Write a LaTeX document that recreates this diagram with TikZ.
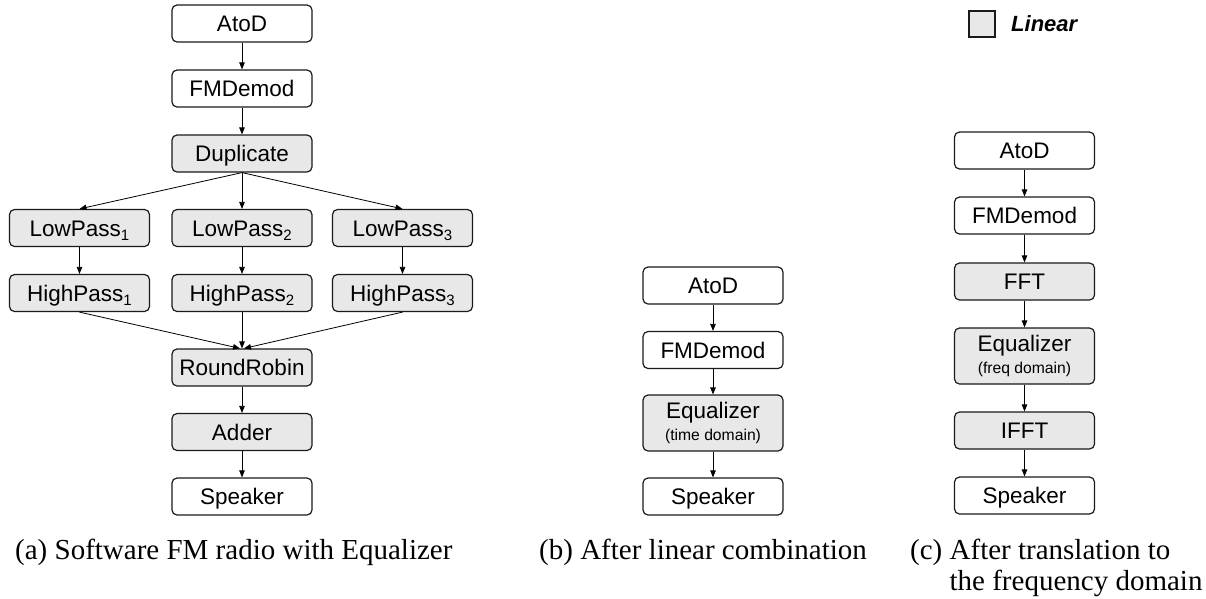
\documentclass[tikz,border=0pt]{standalone}
\usepackage{fontspec}
\setmainfont{Liberation Serif}
\setsansfont{Liberation Sans}
\usetikzlibrary{arrows.meta}
\definecolor{linfill}{HTML}{E8E8E8}
\definecolor{boxline}{HTML}{1A1A1A}
\begin{document}
\begin{tikzpicture}[x=1pt,y=-1pt,
  filter/.style={draw=boxline, line width=1.2pt, rounded corners=5pt, fill=white,
    minimum width=140pt, minimum height=37pt, inner sep=0pt,
    font=\sffamily\fontsize{22.5}{24}\selectfont, text height=16pt, text depth=0pt},
  linfilter/.style={filter, fill=linfill},
  eqbox/.style={linfilter, minimum height=56pt, text height=, text depth=, align=center},
  flow/.style={draw=black, line width=0.8pt, -{Triangle[length=7pt,width=5.5pt]}},
  caption/.style={font=\fontsize{29}{31}\selectfont, inner sep=0pt, anchor=west}
]
\useasboundingbox (0,0) rectangle (1206,598);
\newcommand{\smallsub}[1]{\raisebox{-4.5pt}{\fontsize{15}{15}\selectfont #1}}
% ---------------- (a)
\node[filter]    (aA)  at (242,23.5)  {AtoD};
\node[filter]    (aF)  at (242,88.5)  {FMDemod};
\node[linfilter] (aD)  at (242,153.5) {Duplicate};
\node[linfilter] (aL1) at (79.5,228)  {LowPass\smallsub{1}};
\node[linfilter] (aL2) at (242,228)   {LowPass\smallsub{2}};
\node[linfilter] (aL3) at (402.5,228) {LowPass\smallsub{3}};
\node[linfilter] (aH1) at (79.5,293)  {HighPass\smallsub{1}};
\node[linfilter] (aH2) at (242,293)   {HighPass\smallsub{2}};
\node[linfilter] (aH3) at (402.5,293) {HighPass\smallsub{3}};
\node[linfilter] (aR)  at (242,367.5) {RoundRobin};
\node[linfilter] (aAd) at (242,432)   {Adder};
\node[filter]    (aS)  at (242,496.5) {Speaker};
\draw[flow] (aA) -- (aF);
\draw[flow] (aF) -- (aD);
\draw[flow] (aD.south) -- (aL1.north);
\draw[flow] (aD.south) -- (aL2.north);
\draw[flow] (aD.south) -- (aL3.north);
\draw[flow] (aL1) -- (aH1);
\draw[flow] (aL2) -- (aH2);
\draw[flow] (aL3) -- (aH3);
\draw[flow] (aH1.south) -- ([xshift=-2pt]aR.north);
\draw[flow] (aH2.south) -- (aR.north);
\draw[flow] (aH3.south) -- ([xshift=2pt]aR.north);
\draw[flow] (aR) -- (aAd);
\draw[flow] (aAd) -- (aS);
\node[caption] (capa) at (15,552) {(a) Software FM radio with Equalizer};
% ---------------- (b)
\node[filter] (bA) at (713,285.5) {AtoD};
\node[filter] (bF) at (713,350)   {FMDemod};
\node[eqbox]  (bE) at (713,423)   {Equalizer\\[-2pt]{\fontsize{15.7}{16}\selectfont (time domain)}};
\node[filter] (bS) at (713,496.5) {Speaker};
\draw[flow] (bA) -- (bF);
\draw[flow] (bF) -- (bE);
\draw[flow] (bE) -- (bS);
\node[caption] (capb) at (539,552) {(b) After linear combination};
% ---------------- (c)
\node[filter]    (cA) at (1024.5,150.5) {AtoD};
\node[filter]    (cF) at (1024.5,215.5) {FMDemod};
\node[linfilter] (cT) at (1024.5,281.5) {FFT};
\node[eqbox]     (cE) at (1024.5,356)   {Equalizer\\[-2pt]{\fontsize{15.7}{16}\selectfont (freq domain)}};
\node[linfilter] (cI) at (1024.5,430.5) {IFFT};
\node[filter]    (cS) at (1024.5,495.5) {Speaker};
\draw[flow] (cA) -- (cF);
\draw[flow] (cF) -- (cT);
\draw[flow] (cT) -- (cE);
\draw[flow] (cE) -- (cI);
\draw[flow] (cI) -- (cS);
\node[caption, anchor=north west] (capc) at (910,538)
  {\begin{tabular}{@{}l@{ }l@{}}(c)&After translation to\\&the frequency domain\end{tabular}};
% ---------------- legend
\node[draw=boxline, fill=linfill, line width=1.2pt, minimum width=26pt, minimum height=26pt, inner sep=0pt] (leg) at (982,24) {};
\node[anchor=west, inner sep=0pt, font=\sffamily\bfseries\itshape\fontsize{22}{24}\selectfont] (legt) at (1011,24) {Linear};
\end{tikzpicture}
\end{document}
